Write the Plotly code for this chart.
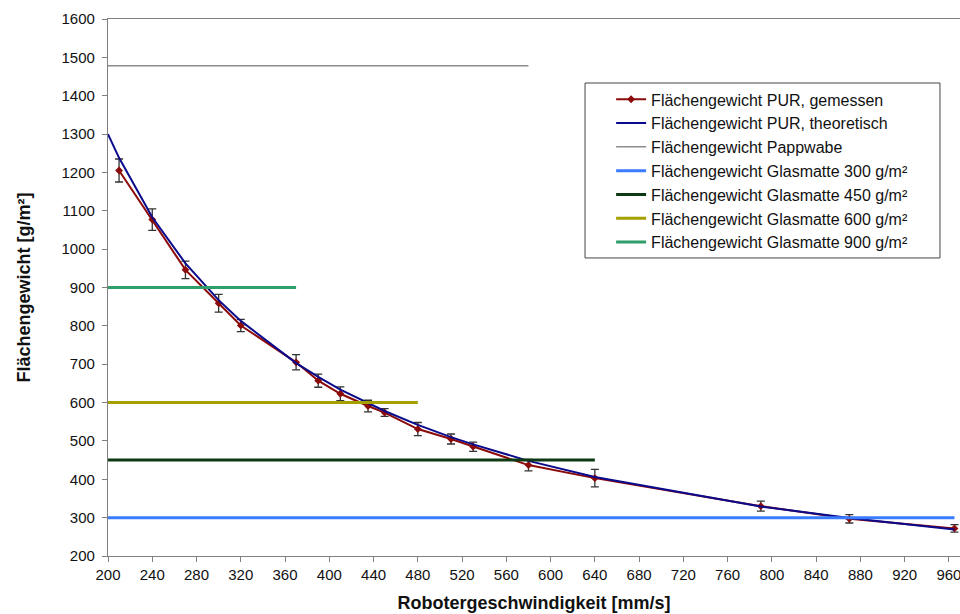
import plotly.graph_objects as go

# Robot speed [mm/s] for the measured samples
speed = [210, 240, 270, 300, 320, 370, 390, 410, 435, 450, 480, 510, 530, 580, 640, 790, 870, 965]
# Measured area weight PUR [g/m²] and standard deviation
pur_measured = [1205, 1077, 946, 859, 801, 705, 657, 623, 591, 574, 531, 505, 485, 437, 403, 330, 297, 272]
pur_error = [30, 28, 23, 23, 16, 20, 17, 18, 15, 10, 17, 13, 12, 15, 23, 13, 11, 10]

# Theoretical area weight PUR [g/m²]
speed_theory = [200, 210, 240, 270, 300, 320, 370, 390, 410, 435, 450, 480, 510, 530, 580, 640, 790, 870, 965]
pur_theory = [1300, 1238, 1083, 963, 867, 813, 703, 667, 634, 598, 578, 542, 510, 491, 448, 406, 329, 299, 269]

# Reference weights: label, weight g/m², speed range end, colour, width
ref_names = ["Flächengewicht Pappwabe",
             "Flächengewicht Glasmatte 300 g/m²",
             "Flächengewicht Glasmatte 450 g/m²",
             "Flächengewicht Glasmatte 600 g/m²",
             "Flächengewicht Glasmatte 900 g/m²"]
ref_weights = [1478, 300, 450, 600, 900]
ref_end_speed = [580, 965, 640, 480, 370]
ref_colors = ["#8c8c8c", "#3a7cff", "#0d3a12", "#a3a000", "#2f9e6a"]
ref_widths = [1.5, 3, 3, 3, 3]

x_ticks = list(range(200, 961, 40))
y_ticks = list(range(200, 1601, 100))

FONT = "Liberation Sans, Arial, sans-serif"

fig = go.Figure()

fig.add_trace(go.Scatter(
    x=speed, y=pur_measured, mode="lines+markers",
    name="Flächengewicht PUR, gemessen",
    line=dict(color="#8b0a0a", width=2),
    marker=dict(symbol="diamond", size=6, color="#8b0a0a"),
    error_y=dict(type="data", array=pur_error, visible=True,
                 color="#333333", thickness=1.3, width=4),
))

fig.add_trace(go.Scatter(
    x=speed_theory, y=pur_theory, mode="lines",
    name="Flächengewicht PUR, theoretisch",
    line=dict(color="#0a0a8c", width=2),
))

for name, w, xe, col, lw in zip(ref_names, ref_weights, ref_end_speed, ref_colors, ref_widths):
    fig.add_trace(go.Scatter(
        x=[200, xe], y=[w, w], mode="lines", name=name,
        line=dict(color=col, width=lw),
    ))

axis_common = dict(
    showline=True, linecolor="#808080", linewidth=1.3,
    ticks="outside", ticklen=5, tickcolor="#808080", tickwidth=1.3,
    showgrid=False, zeroline=False,
    tickfont=dict(family=FONT, size=15, color="#111111"),
    ticklabeloverflow="allow",
)

fig.update_xaxes(
    range=[200, 970], tickvals=x_ticks, mirror=True,
    title=dict(text="<b>Robotergeschwindigkeit [mm/s]</b>",
               font=dict(family=FONT, size=18, color="#111111"), standoff=14),
    **axis_common,
)
fig.update_yaxes(
    range=[200, 1600], tickvals=y_ticks, ticklabelstandoff=4,
    title=dict(text="<b>Flächengewicht [g/m²]</b>",
               font=dict(family=FONT, size=18, color="#111111"), standoff=26),
    **axis_common,
)

# Frame behind the legend entries
fig.add_shape(
    type="rect", xref="paper", yref="paper",
    x0=0.5599, x1=0.9765, y0=0.555, y1=0.8808,
    fillcolor="white", line=dict(color="#444444", width=1), layer="above",
)

fig.update_layout(
    width=960, height=614,
    margin=dict(l=108, r=0, t=19, b=58),
    paper_bgcolor="white", plot_bgcolor="white",
    showlegend=True,
    legend=dict(
        x=0.56, y=0.882, xanchor="left", yanchor="top",
        bgcolor="rgba(0,0,0,0)", borderwidth=0,
        font=dict(family=FONT, size=16, color="#111111"),
        tracegroupgap=0, itemwidth=30, indentation=26,
    ),
)

fig.write_html("out.html")
